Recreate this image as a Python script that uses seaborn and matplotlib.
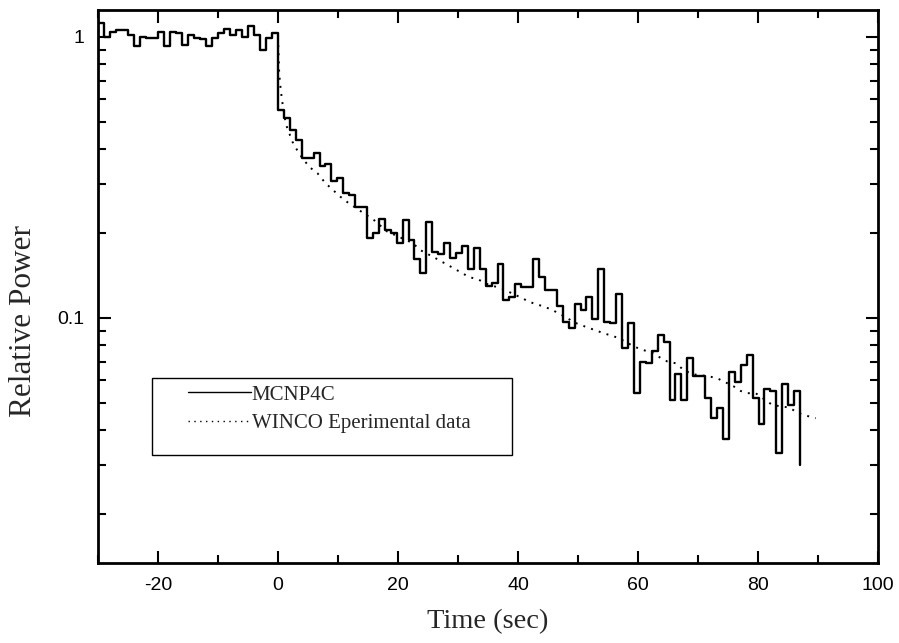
import numpy as np
import pandas as pd
import matplotlib
matplotlib.use('Agg')
import matplotlib.pyplot as plt
import seaborn as sns
from matplotlib.patches import Rectangle
from matplotlib.ticker import MultipleLocator, LogLocator, NullFormatter

# MCNP4C histogram, 1 s bins before the power drop (-30 .. 0)
mcnp_pre = [1.12, 1.00, 1.04, 1.06, 1.06, 1.02, 0.93, 1.00, 0.99, 0.99,
            1.04, 0.93, 1.04, 1.03, 0.94, 1.02, 0.99, 0.98, 0.93, 0.99,
            1.03, 1.07, 1.02, 1.06, 1.00, 1.09, 1.02, 0.90, 0.99, 1.03]
# MCNP4C histogram after the drop (0 .. 87 s)
mcnp_post = [0.55, 0.515, 0.467, 0.43, 0.37, 0.37, 0.388, 0.346, 0.353, 0.308,
             0.314, 0.279, 0.274, 0.249, 0.249, 0.192, 0.20, 0.225, 0.206, 0.20,
             0.185, 0.223, 0.19, 0.162, 0.145, 0.22, 0.172, 0.169, 0.185, 0.163,
             0.17, 0.18, 0.149, 0.177, 0.15, 0.13, 0.133, 0.156, 0.116, 0.119,
             0.132, 0.129, 0.129, 0.162, 0.14, 0.126, 0.126, 0.11, 0.097, 0.092,
             0.112, 0.107, 0.119, 0.099, 0.149, 0.097, 0.096, 0.122, 0.078, 0.096,
             0.054, 0.07, 0.069, 0.076, 0.087, 0.082, 0.051, 0.063, 0.051, 0.072,
             0.062, 0.062, 0.052, 0.044, 0.048, 0.037, 0.064, 0.059, 0.068, 0.074,
             0.052, 0.042, 0.056, 0.055, 0.033, 0.058, 0.049, 0.055]
mcnp_end_value = 0.030
pre_start, post_end = -30, 87

# WINCO experimental data (dotted)
winco_t = [0, 0.2, 0.45, 0.7, 1.3, 2.4, 3.5, 5.2, 6.6, 7.9, 10.4, 11.8, 16, 18.2,
           22.4, 23.8, 26.3, 29.1, 31.8, 33.4, 34.9, 37.4, 40.2, 41.6, 42.9, 44.3,
           46, 47.1, 49.6, 51.3, 53.8, 55.2, 56.7, 59.4, 60.8, 62.5, 63.8, 64.9,
           66.3, 67.7, 69.3, 71.8, 73.2, 74.6, 76, 77.1, 78.2, 79.6, 82.4, 85.2,
           86.6, 87.9, 89.6]
winco_p = [1.0, 0.74, 0.65, 0.59, 0.49, 0.424, 0.385, 0.345, 0.327, 0.302, 0.27,
           0.256, 0.223, 0.203, 0.185, 0.174, 0.163, 0.151, 0.14, 0.137, 0.132,
           0.127, 0.119, 0.115, 0.112, 0.11, 0.106, 0.103, 0.096, 0.093, 0.089,
           0.087, 0.085, 0.079, 0.077, 0.075, 0.072, 0.07, 0.069, 0.065, 0.063,
           0.062, 0.061, 0.059, 0.057, 0.055, 0.054, 0.054, 0.049, 0.048, 0.046,
           0.045, 0.044]

# step edges
pre_edges = np.arange(pre_start, 0, 1.0)
post_edges = np.linspace(0, post_end, len(mcnp_post) + 1)
mcnp_df = pd.DataFrame({
    't': np.concatenate([pre_edges, post_edges]),
    'p': mcnp_pre + mcnp_post + [mcnp_end_value],
})
winco_df = pd.DataFrame({'t': winco_t, 'p': winco_p})

sns.set_theme(style='ticks')
plt.rcParams['font.family'] = ['Liberation Sans', 'DejaVu Sans']
plt.rcParams['axes.unicode_minus'] = False

fig, ax = plt.subplots(figsize=(8.99, 6.43), dpi=100)
fig.subplots_adjust(left=0.109, right=0.9767, top=0.9844, bottom=0.1244)

sns.lineplot(data=mcnp_df, x='t', y='p', ax=ax, color='black', lw=1.7,
             drawstyle='steps-post', sort=False, label='MCNP4C')
sns.lineplot(data=winco_df, x='t', y='p', ax=ax, color='black', lw=1.4,
             linestyle=(0, (1, 3.2)), sort=False, label='WINCO Eperimental data')

ax.set_yscale('log')
ax.set_xlim(-30, 100)
ax.set_ylim(0.01343, 1.247)

ax.xaxis.set_major_locator(MultipleLocator(20))
ax.xaxis.set_minor_locator(MultipleLocator(10))
ax.set_yticks([0.1, 1])
ax.set_yticklabels(['0.1', '1'])
ax.yaxis.set_minor_locator(LogLocator(base=10, subs=np.arange(2, 10)))
ax.yaxis.set_minor_formatter(NullFormatter())

ax.tick_params(which='both', direction='in', top=True, right=True,
               color='black', labelcolor='black')
ax.tick_params(which='major', length=9, width=1.5, labelsize=14, pad=10)
ax.tick_params(which='minor', length=5.5, width=1.5)
for s in ax.spines.values():
    s.set_linewidth(2)
    s.set_color('black')

ax.set_xlabel('Time (sec)', fontdict={'family': 'Liberation Serif', 'size': 20.5},
              labelpad=11)
ax.set_ylabel('Relative Power', fontdict={'family': 'Liberation Serif', 'size': 22.5})
ax.yaxis.set_label_coords(-0.077, 0.4376)

# legend
leg = ax.legend(loc='upper left', bbox_to_anchor=(0.1154, 0.322), frameon=False,
                borderpad=0, borderaxespad=0, handlelength=3.0, handletextpad=0.05,
                labelspacing=0.45, prop={'family': 'Liberation Serif', 'size': 15})
for line in leg.get_lines():
    line.set_linewidth(1.0)
ax.add_patch(Rectangle((0.0692, 0.1953), 0.4615, 0.139, transform=ax.transAxes,
                       fill=False, lw=1.0, edgecolor='black'))

fig.savefig('out.png', dpi=100)
